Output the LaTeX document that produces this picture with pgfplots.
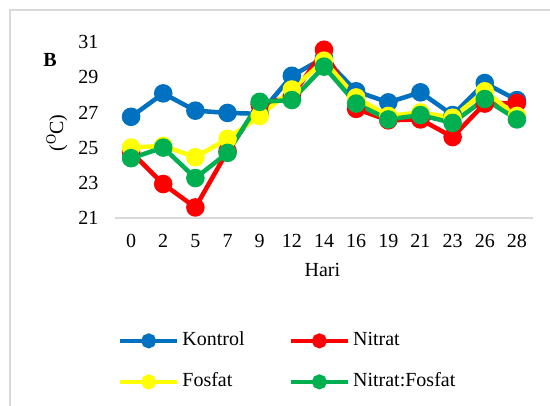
\documentclass[border=0pt]{standalone}
\usepackage{fontspec}
\setmainfont{Liberation Serif}
\usepackage{pgfplots}
\pgfplotsset{compat=1.18}
\definecolor{cblue}{HTML}{0070C0}
\definecolor{cred}{HTML}{FF0000}
\definecolor{cyel}{HTML}{FFFF00}
\definecolor{cgreen}{HTML}{00B050}
\definecolor{frame}{HTML}{D9D9D9}
\begin{document}
\begin{tikzpicture}[font=\fontsize{20bp}{24bp}\selectfont]
\path[use as bounding box] (0,0) rectangle (550bp,406bp);
\draw[frame, line width=1.2bp] (10bp,-5bp) -- (10bp,396bp) -- (560bp,396bp);
\begin{axis}[
  at={(115bp,188bp)}, anchor=south west,
  scale only axis, width=418bp, height=176bp,
  xmin=-0.5, xmax=12.5, ymin=21, ymax=31,
  axis x line=bottom, axis y line=left,
  x axis line style={draw=frame, line width=1.2bp, -},
  y axis line style={draw=none},
  major tick length=0pt,
  xtick={0,...,12},
  xticklabels={0,2,5,7,9,12,14,16,19,21,23,26,28},
  ytick={21,23,25,27,29,31},
  /pgf/number format/assume math mode=true,
  font=\fontsize{20bp}{24bp}\selectfont,
  xticklabel style={yshift=-13bp},
  yticklabel style={xshift=-13bp},
  xlabel={Hari},
  xlabel style={at={(axis description cs:0.496,-0.298)}, anchor=center},
  ylabel={(\textsuperscript{O}C)},
  ylabel style={at={(axis description cs:-0.139,0.483)}, anchor=center},
  every axis plot/.append style={line width=4.5bp, mark=*, mark size=7bp},
  legend columns=2,
  legend cell align=left,
  legend style={draw=none, fill=none, inner sep=0pt, outer sep=0pt,
    at={(axis description cs:0.007,-0.63)}, anchor=north west,
    nodes={inner sep=3bp, text height=14bp, text depth=4bp},
    row sep=17bp,
    /tikz/every even column/.append style={column sep=41bp},
    font=\fontsize{20bp}{24bp}\selectfont},
  legend image code/.code={
    \draw[#1, mark=none, line width=4.5bp] plot coordinates {(0bp,0bp) (57bp,0bp)};
    \path[#1, mark=none, fill] (28.5bp,0bp) circle[radius=5.2bp];
  },
]
\addplot[cblue, mark options={fill=cblue}] coordinates {
(0,26.75) (1,28.08) (2,27.1) (3,26.97) (4,26.92) (5,29.08) (6,30.1)
(7,28.2) (8,27.57) (9,28.14) (10,26.85) (11,28.67) (12,27.7)};
\addlegendentry{Kontrol}
\addplot[cred, mark options={fill=cred}] coordinates {
(0,24.75) (1,22.93) (2,21.6) (3,24.8) (4,27.45) (5,27.9) (6,30.56)
(7,27.2) (8,26.55) (9,26.6) (10,25.6) (11,27.5) (12,27.54)};
\addlegendentry{Nitrat}
\addplot[cyel, mark options={fill=cyel}] coordinates {
(0,25.0) (1,25.1) (2,24.45) (3,25.5) (4,26.8) (5,28.3) (6,29.94)
(7,27.85) (8,26.8) (9,27.0) (10,26.7) (11,28.2) (12,26.8)};
\addlegendentry{Fosfat}
\addplot[cgreen, mark options={fill=cgreen}] coordinates {
(0,24.4) (1,25.0) (2,23.27) (3,24.7) (4,27.6) (5,27.7) (6,29.6)
(7,27.5) (8,26.6) (9,26.85) (10,26.4) (11,27.76) (12,26.6)};
\addlegendentry{Nitrat:Fosfat}
\end{axis}
\node[anchor=base, font=\fontsize{20bp}{24bp}\selectfont\bfseries] at (50bp,339bp) {B};
\end{tikzpicture}
\end{document}
